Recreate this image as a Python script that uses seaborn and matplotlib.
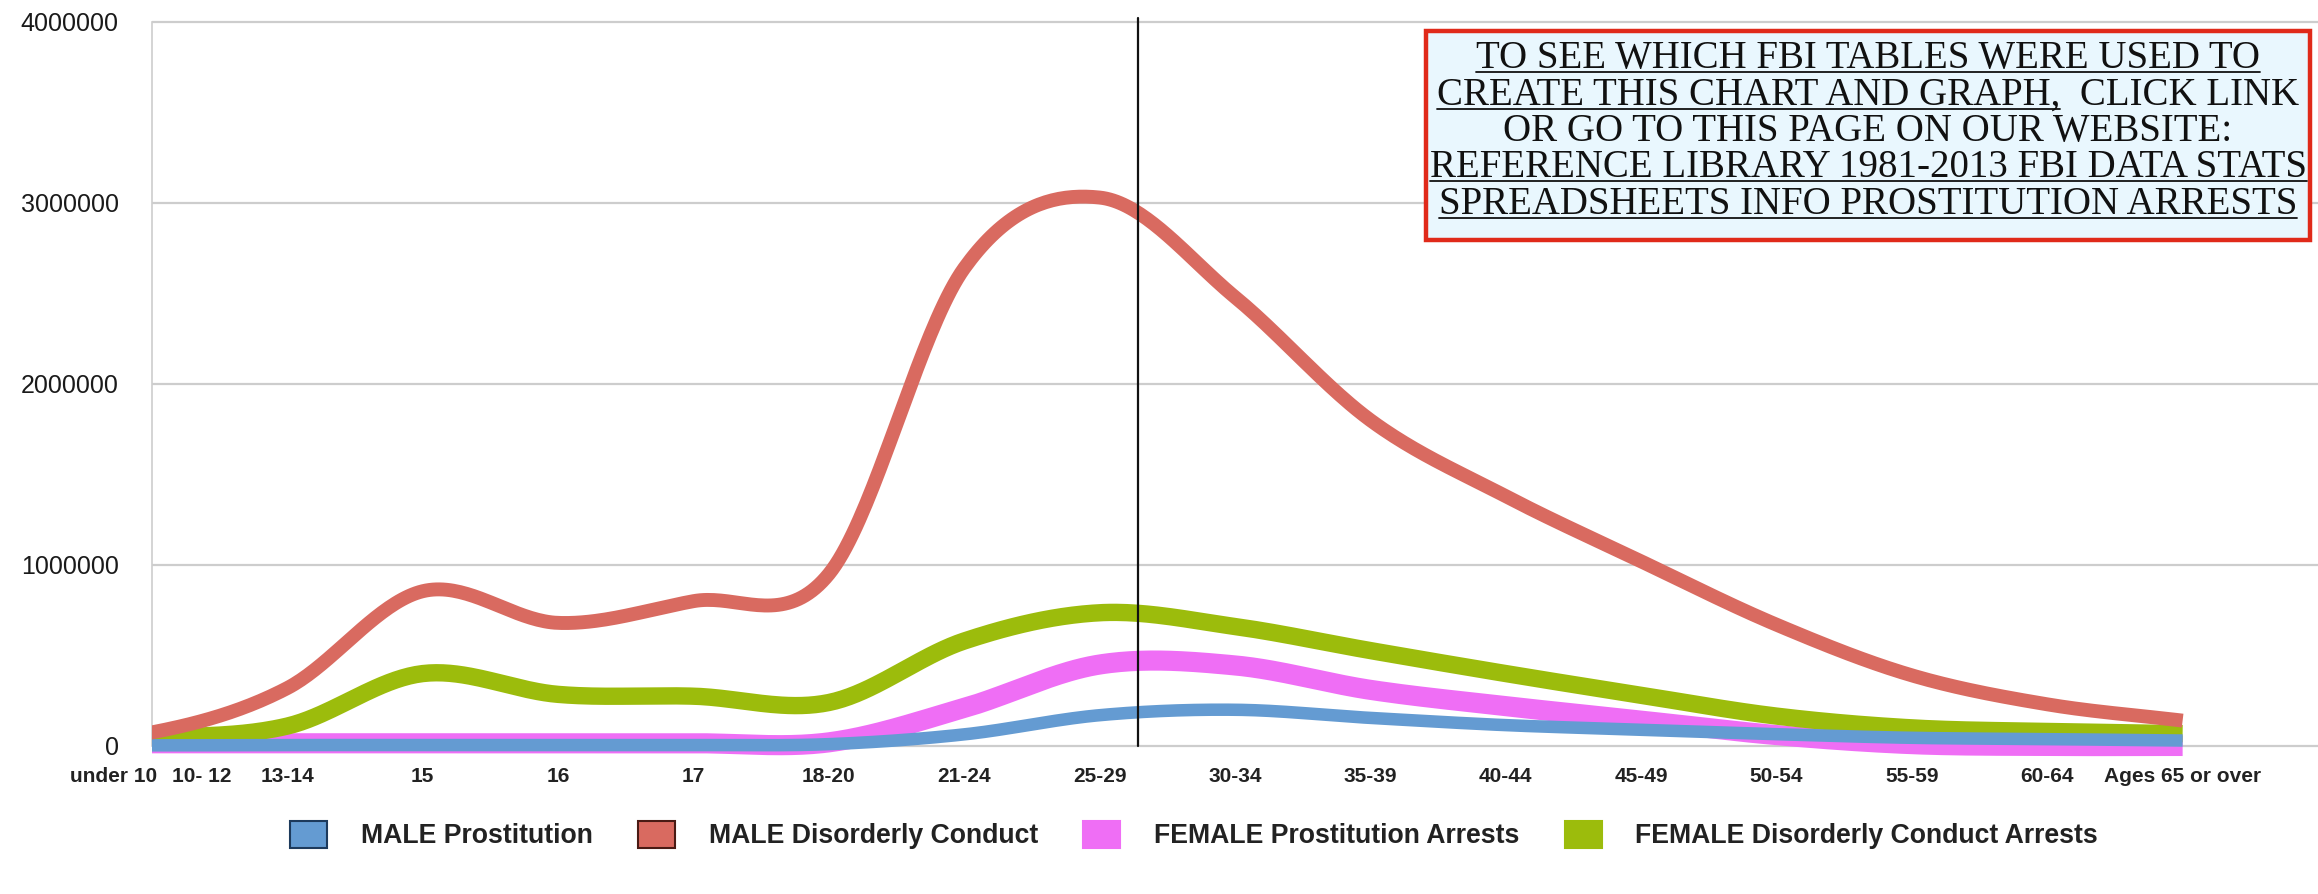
import numpy as np
import pandas as pd
import matplotlib
matplotlib.use("Agg")
import matplotlib.pyplot as plt
import matplotlib.transforms as mtransforms
import seaborn as sns
from matplotlib.patches import Patch, Rectangle
from matplotlib.lines import Line2D

# ---------------- data ----------------
age_groups = ["under 10", "10- 12", "13-14", "15", "16", "17", "18-20", "21-24",
              "25-29", "30-34", "35-39", "40-44", "45-49", "50-54", "55-59",
              "60-64", "Ages 65 or over"]
male_prostitution = [3000, 3000, 5000, 5000, 5000, 5000, 10000, 64000, 170000,
                     200000, 155000, 115000, 90000, 65000, 45000, 38000, 30000]
male_disorderly = [30000, 75000, 320000, 855000, 680000, 800000, 950000, 2640000,
                   3030000, 2480000, 1800000, 1380000, 1020000, 670000, 390000,
                   230000, 140000]
female_prostitution = [15000, 15000, 15000, 15000, 15000, 15000, 20000, 210000,
                       450000, 445000, 310000, 220000, 140000, 60000, 10000, 0, 0]
female_disorderly = [40000, 46000, 110000, 400000, 285000, 275000, 240000, 580000,
                     736000, 660000, 527000, 400000, 280000, 165000, 100000, 80000,
                     68000]
series_names = ["MALE Prostitution", "MALE Disorderly Conduct",
                "FEMALE Prostitution Arrests", "FEMALE Disorderly Conduct Arrests"]
y_ticks = [0, 1000000, 2000000, 3000000, 4000000]
highlight_group = "25-29"
note_lines = ["TO SEE WHICH FBI TABLES WERE USED TO",
              "CREATE THIS CHART AND GRAPH,  CLICK LINK",
              "OR GO TO THIS PAGE ON OUR WEBSITE:",
              "REFERENCE LIBRARY 1981-2013 FBI DATA STATS",
              "SPREADSHEETS INFO PROSTITUTION ARRESTS"]
note_underline_prefix = ["TO SEE WHICH FBI TABLES WERE USED TO",
                         "CREATE THIS CHART AND GRAPH,",
                         None,
                         "REFERENCE LIBRARY 1981-2013 FBI DATA STATS",
                         "SPREADSHEETS INFO PROSTITUTION ARRESTS"]

# ---------------- style ----------------
colors = ["#649bd2", "#d96a60", "#ef6ef5", "#9cbc0c"]
edge_colors = ["#1d3a5c", "#4a1a14", "#ef6ef5", "#9cbc0c"]
widths = [9, 10, 14.5, 12.5]
draw_order = [2, 3, 0, 1]  # pink, green, blue, red (last on top)

sns.set_style("white")
plt.rcParams["font.family"] = ["Liberation Sans", "DejaVu Sans"]

W, H = 2318, 894
AX_L, AX_B, AX_T = 152, 757, 18
fig = plt.figure(figsize=(W / 100, H / 100), dpi=100)
ax = fig.add_axes([AX_L / W, 1 - AX_B / H, (W - AX_L) / W, (AX_B - AX_T) / H])


def smooth(yvals, n=40):
    """Catmull-Rom rendering of the series (only for drawing the curve)."""
    y = np.asarray(yvals, dtype=float)
    x = np.arange(len(y), dtype=float)
    yp = np.concatenate([[2 * y[0] - y[1]], y, [2 * y[-1] - y[-2]]])
    xs, ys = [], []
    for i in range(len(y) - 1):
        p0, p1, p2, p3 = yp[i], yp[i + 1], yp[i + 2], yp[i + 3]
        m1 = (p2 - p0) / 2
        m2 = (p3 - p1) / 2
        t = np.linspace(0, 1, n, endpoint=(i == len(y) - 2))
        h00 = 2 * t**3 - 3 * t**2 + 1
        h10 = t**3 - 2 * t**2 + t
        h01 = -2 * t**3 + 3 * t**2
        h11 = t**3 - t**2
        xs.append(x[i] + t)
        ys.append(h00 * p1 + h10 * m1 + h01 * p2 + h11 * m2)
    return np.concatenate(xs), np.concatenate(ys)


all_series = [male_prostitution, male_disorderly, female_prostitution, female_disorderly]
for rank, k in enumerate(draw_order):
    sx, sy = smooth(all_series[k])
    df = pd.DataFrame({"x": sx, "value": sy})
    sns.lineplot(data=df, x="x", y="value", ax=ax, color=colors[k],
                 linewidth=widths[k], sort=False, legend=False,
                 solid_capstyle="butt", solid_joinstyle="round", zorder=3 + rank)

ylo, yhi = -61000, 4022000
ax.set_ylim(ylo, yhi)
ax.set_xlim(1, len(age_groups))

# gridlines
for yv in y_ticks:
    ax.axhline(yv, color="#cdcdcd", lw=1.6, zorder=1)

# highlight vertical line
xi = age_groups.index(highlight_group)
ax.axvline(xi + 0.28, ymin=(0 - ylo) / (yhi - ylo), ymax=1.0, color="#111111",
           lw=1.6, zorder=20, clip_on=False)

ax.set_yticks(y_ticks)
ax.set_yticklabels([str(v) for v in y_ticks], fontsize=18, color="#1a1a1a")
ax.set_xticks(range(1, len(age_groups)))
ax.set_xticklabels(age_groups[1:], fontsize=15, fontweight="bold", color="#222222")
ax.tick_params(axis="y", length=0, pad=24)
ax.tick_params(axis="x", length=0, pad=7)
first_lbl = ax.get_xticklabels()[0]
first_lbl.set_horizontalalignment("left")
first_lbl.set_transform(first_lbl.get_transform() +
                        mtransforms.ScaledTranslation(0.2, 0, fig.dpi_scale_trans))
ax.set_xlabel("")
ax.set_ylabel("")
for s in ["top", "right", "bottom"]:
    ax.spines[s].set_visible(False)
ax.spines["left"].set_color("#cdcdcd")
ax.spines["left"].set_linewidth(1.2)
ax.spines["left"].set_bounds(0, 4000000)
ax.grid(False)

# first age group label sits just left of the value axis (as in the original)
ax.annotate(age_groups[0], xy=(1, 0), xycoords=("data", "axes fraction"),
            xytext=(4, -7), textcoords="offset points", ha="right", va="top",
            fontsize=15, fontweight="bold", color="#222222", annotation_clip=False)

# legend
handles = [Patch(facecolor=colors[k], edgecolor=edge_colors[k], linewidth=1.5)
           for k in range(4)]
leg = fig.legend(handles, series_names, loc="center", ncol=4,
                 bbox_to_anchor=(1194 / W, 1 - 835 / H), frameon=False,
                 prop={"family": "Liberation Sans", "weight": "bold", "size": 19.2},
                 handlelength=1.4, handleheight=1.2, handletextpad=1.25,
                 columnspacing=1.7, borderaxespad=0)
for t in leg.get_texts():
    t.set_color("#222222")

# note box
bx0, bx1, by0, by1 = 1426, 2310, 31, 240
fig.add_artist(Rectangle((bx0 / W, 1 - by1 / H), (bx1 - bx0) / W, (by1 - by0) / H,
                         transform=fig.transFigure, facecolor="#e9f7fe",
                         edgecolor="#e02a1a", linewidth=3.2, zorder=30))
cx = (bx0 + bx1) / 2
baselines = [68, 105, 141, 177, 214]
texts = []
for line, b in zip(note_lines, baselines):
    t = fig.text(cx / W, 1 - b / H, line, ha="center", va="baseline",
                 fontsize=28, family="Liberation Serif", color="#111111", zorder=31)
    texts.append(t)

fig.canvas.draw()
renderer = fig.canvas.get_renderer()
for t, b, pref in zip(texts, baselines, note_underline_prefix):
    if pref is None:
        continue
    bb = t.get_window_extent(renderer)
    tmp = fig.text(0, 0, pref, fontsize=28, family="Liberation Serif")
    pw = tmp.get_window_extent(renderer).width
    tmp.remove()
    x0 = bb.x0
    x1 = bb.x0 + pw
    yu = H - (b + 4)
    fig.add_artist(Line2D([x0 / W, x1 / W], [yu / H, yu / H], transform=fig.transFigure,
                          color="#111111", lw=1.3, zorder=32))

fig.savefig("out.png", dpi=100)
